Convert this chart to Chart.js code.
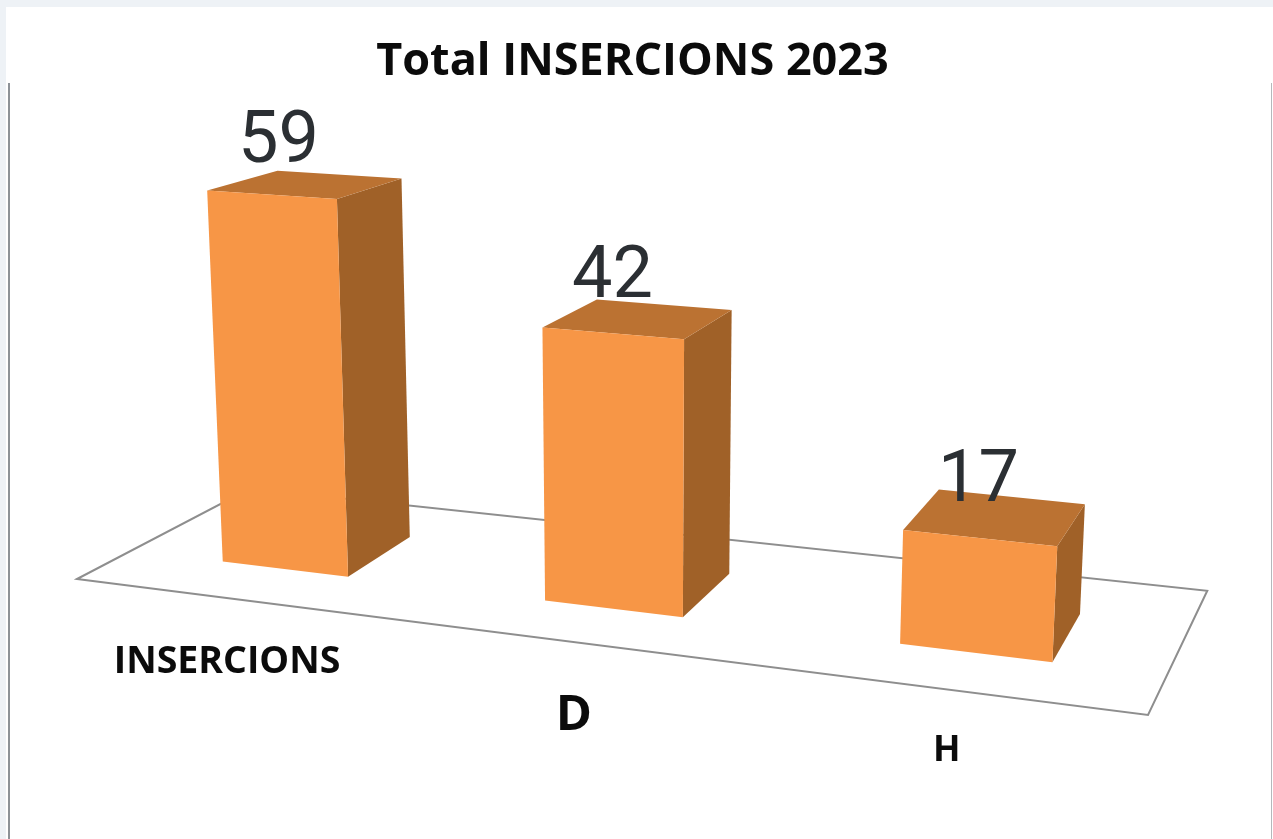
<!DOCTYPE html>
<html>
<head>
<meta charset="utf-8">
<script src="https://cdn.jsdelivr.net/npm/chart.js@4"></script>
<style>
    html, body { margin: 0; padding: 0; background: #eef2f6; overflow: hidden; }
    #frame { position: absolute; left: 6px; top: 7px; width: 1267px; height: 832px; background: #fff; }
    #rule-left { position: absolute; left: 8px; top: 83px; width: 2px; height: 756px; background: #8d9297; }
    #rule-right { position: absolute; left: 1271px; top: 83px; width: 1px; height: 756px; background: #b5b8bb; }
    #chart { position: absolute; left: 0; top: 0; }
</style>
</head>
<body>
<div id="frame"></div>
<div id="rule-left"></div>
<div id="rule-right"></div>
<canvas id="chart" width="1273" height="839"></canvas>
<script>
const categories = [`INSERCIONS`, `D`, `H`]
const values = [59, 42, 17]
const title = `Total INSERCIONS 2023`

// font size and offset from the floor edge for each category label
const tick_sizes = [37.5, 49, 36]
const tick_drops = [63, 74, 61]
const tick_shifts = [-7, 2, 1]

// small hand nudges for the value labels, they do not sit quite on one line in the picture
const label_shifts = [7, 0, -1]
const label_lifts = [33, 36, 37]

const color_front = `#f79646`
const color_top = `#bb7232`
const color_side = `#a06128`

// camera of the 3D view: floor is x 0..1, depth 0..1, height in value units
const cam_origin = [77, 579, 1]
const cam_x = [909.2, 35.24, -0.14096]
const cam_depth = [206.6, -24.75, 0.13453]
const cam_up = [-0.4, -6.5625, -0.000625]
const depth_front = 0.29
const depth_back = 0.7
const x_stretch = 1.005

function project(x, d, z) {
    const p = [0, 1, 2].map(i => cam_origin[i] + x * cam_x[i] + d * cam_depth[i] + z * cam_up[i])
    return [p[0] / p[2], p[1] / p[2]]
}

function polygon(ctx, points, fill) {
    ctx.beginPath()
    points.forEach((p, i) => i ? ctx.lineTo(p[0], p[1]) : ctx.moveTo(p[0], p[1]))
    ctx.closePath()
    ctx.fillStyle = fill
    ctx.fill()
}

const perspective = {
    id: `perspective`,
    beforeDatasetsDraw(chart) {
        const ctx = chart.ctx
        const area = chart.chartArea
        const xs = chart.scales.x

        ctx.save()
        ctx.beginPath()
        const floor = [project(0, 0, 0), project(1, 0, 0), project(1.005, 1.03, 0), project(0, 1, 0)]
        floor.forEach((p, i) => i ? ctx.lineTo(p[0], p[1]) : ctx.moveTo(p[0], p[1]))
        ctx.closePath()
        ctx.strokeStyle = `#8e8e8e`
        ctx.lineWidth = 2
        ctx.stroke()

        ctx.textAlign = `center`
        ctx.textBaseline = `middle`
        ctx.fillStyle = `#0b0b0b`
        categories.forEach((label, i) => {
            const edge = project((xs.getPixelForValue(i) - area.left) / area.width, 0, 0)
            ctx.font = `700 ${tick_sizes[i]}px "Open Sans"`
            ctx.fillText(label, edge[0] + tick_shifts[i], edge[1] + tick_drops[i])
        })
        ctx.restore()
    },
    afterDatasetsDraw(chart) {
        const ctx = chart.ctx
        const area = chart.chartArea
        const ys = chart.scales.y

        ctx.save()
        chart.getDatasetMeta(0).data.forEach((bar, i) => {
            const x0 = (bar.x - bar.width / 2 - area.left) / area.width * x_stretch
            const x1 = (bar.x + bar.width / 2 - area.left) / area.width * x_stretch
            const z0 = ys.getValueForPixel(bar.base)
            const z1 = ys.getValueForPixel(bar.y)

            polygon(ctx, [project(x1, depth_front, z0), project(x1, depth_back, z0),
                project(x1, depth_back, z1), project(x1, depth_front, z1)], color_side)
            polygon(ctx, [project(x0, depth_front, z1), project(x1, depth_front, z1),
                project(x1, depth_back, z1), project(x0, depth_back, z1)], color_top)
            polygon(ctx, [project(x0, depth_front, z0), project(x1, depth_front, z0),
                project(x1, depth_front, z1), project(x0, depth_front, z1)], color_front)

            const anchor = project((x0 + x1) / 2, depth_front, z1)
            ctx.font = `400 72px Roboto`
            ctx.textAlign = `center`
            ctx.textBaseline = `alphabetic`
            ctx.fillStyle = `#2b2f33`
            ctx.fillText(String(values[i]), anchor[0] + label_shifts[i], anchor[1] - label_lifts[i])
        })
        ctx.restore()
    }
}

const chart = new Chart(document.getElementById(`chart`).getContext(`2d`), {
    type: `bar`,
    data: {
        labels: categories,
        datasets: [{
            data: values,
            backgroundColor: `rgba(0, 0, 0, 0)`,
            barPercentage: 0.4,
            categoryPercentage: 1
        }]
    },
    options: {
        responsive: false,
        animation: false,
        events: [],
        layout: { padding: { top: 30, right: 8, bottom: 20, left: 0 } },
        plugins: {
            legend: { display: false },
            tooltip: { enabled: false },
            title: {
                display: true,
                text: title,
                color: `#0b0b0b`,
                font: { family: `"Open Sans"`, size: 45, weight: `700`, lineHeight: 1 },
                padding: { top: 10, bottom: 10 }
            }
        },
        scales: {
            x: { display: false },
            y: { display: false, min: 0, max: 60 }
        }
    },
    plugins: [perspective]
})
</script>
</body>
</html>
